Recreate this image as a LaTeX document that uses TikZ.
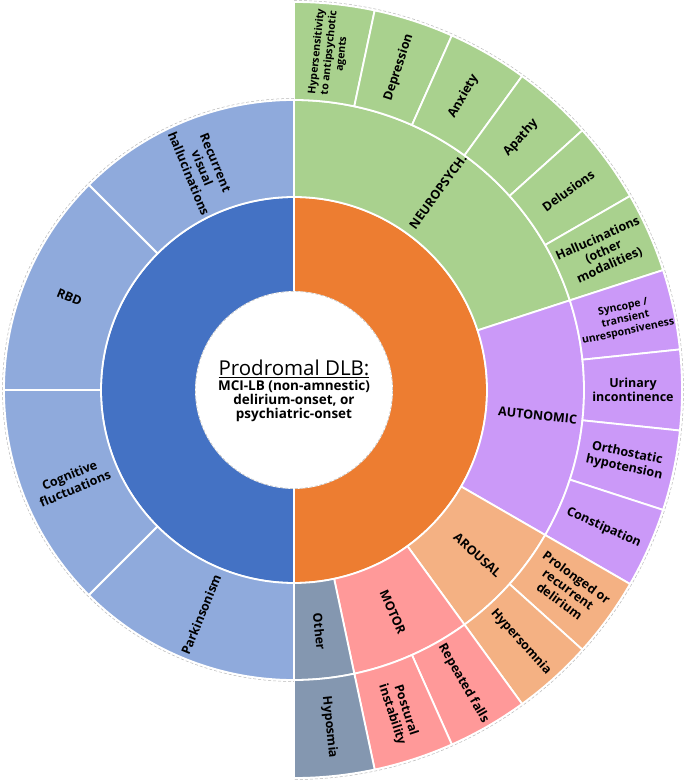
\documentclass[tikz,border=0pt]{standalone}
\usepackage{fontspec}
\setmainfont{Open Sans}
\usetikzlibrary{calc}

\definecolor{dlbblue}{HTML}{4472C4}
\definecolor{dlblight}{HTML}{8FAADC}
\definecolor{dlborange}{HTML}{ED7D31}
\definecolor{neurogreen}{HTML}{A9D18E}
\definecolor{autopurple}{HTML}{CB99F8}
\definecolor{arousalpeach}{HTML}{F4B183}
\definecolor{motorpink}{HTML}{FF9999}
\definecolor{othergrey}{HTML}{8497B0}

% one piece of the sunburst: start angle, end angle, inner r, outer r, colour
\newcommand{\sunpart}[5]{%
  \path[part, fill=#5] (#1:#3) arc[start angle=#1, end angle=#2, radius=#3pt]
    -- (#2:#4) arc[start angle=#2, end angle=#1, radius=#4pt] -- cycle;}

\begin{document}
\begin{tikzpicture}[x=1pt, y=1pt,
    part/.style={draw=white, line width=1.8pt, line join=round},
    rim/.style={draw=gray!55, densely dashed, line width=0.5pt},
    lbl/.style={font=\bfseries\fontsize{12.5}{14.5}\selectfont, align=center, inner sep=0pt},
    small/.style={lbl, font=\bfseries\fontsize{10.5}{12.5}\selectfont}]
    \useasboundingbox (-294,-391) rectangle (391,390);

    % inner ring
    \sunpart{90}{270}{98}{193}{dlbblue}
    \sunpart{-90}{90}{98}{193}{dlborange}

    % left half, core features
    \sunpart{90}{135}{193}{290}{dlblight}
    \sunpart{135}{180}{193}{290}{dlblight}
    \sunpart{180}{225}{193}{290}{dlblight}
    \sunpart{225}{270}{193}{290}{dlblight}

    % right half, groups
    \sunpart{18}{90}{193}{290}{neurogreen}
    \sunpart{-30}{18}{193}{290}{autopurple}
    \sunpart{-54}{-30}{193}{290}{arousalpeach}
    \sunpart{-78}{-54}{193}{290}{motorpink}
    \sunpart{-90}{-78}{193}{290}{othergrey}

    % right half, outer ring
    \sunpart{78}{90}{290}{388}{neurogreen}
    \sunpart{66}{78}{290}{388}{neurogreen}
    \sunpart{54}{66}{290}{388}{neurogreen}
    \sunpart{42}{54}{290}{388}{neurogreen}
    \sunpart{30}{42}{290}{388}{neurogreen}
    \sunpart{18}{30}{290}{388}{neurogreen}
    \sunpart{6}{18}{290}{388}{autopurple}
    \sunpart{-6}{6}{290}{388}{autopurple}
    \sunpart{-18}{-6}{290}{388}{autopurple}
    \sunpart{-30}{-18}{290}{388}{autopurple}
    \sunpart{-42}{-30}{290}{388}{arousalpeach}
    \sunpart{-54}{-42}{290}{388}{arousalpeach}
    \sunpart{-66}{-54}{290}{388}{motorpink}
    \sunpart{-78}{-66}{290}{388}{motorpink}
    \sunpart{-90}{-78}{290}{388}{othergrey}

    % centre
    \fill[white] (0,0) circle[radius=97pt];
    \draw[rim] (0,0) circle[radius=98.5pt];
    \draw[rim] (90:389.5) arc[start angle=90, end angle=-90, radius=389.5pt];
    \draw[rim] (90:291.5) arc[start angle=90, end angle=270, radius=291.5pt];

    \node[align=center, inner sep=0pt, font=\bfseries\fontsize{13.5}{14}\selectfont] (title) at (0,-1)
      {{\mdseries\fontsize{20.5}{22}\selectfont\underline{Prodromal DLB:}}\\[1pt]
       MCI-LB (non-amnestic)\\delirium-onset, or\\psychiatric-onset};

    % left labels
    \node[lbl, rotate=-67.5] (rvh) at (112.5:240) {Recurrent\\visual\\hallucinations};
    \node[lbl, rotate=-22.5] (rbd) at (157.5:243) {RBD};
    \node[lbl, rotate=22.5] (cogfl) at (202.5:240) {Cognitive\\fluctuations};
    \node[lbl, rotate=67.5] (park) at (247.5:243) {Parkinsonism};

    % group labels
    \node[lbl, rotate=54] (neuro) at (54:245) {NEUROPSYCH.};
    \node[lbl, rotate=-6] (auto) at (-6:245) {AUTONOMIC};
    \node[lbl, rotate=-42] (arousal) at (-42:247) {AROUSAL};
    \node[lbl, rotate=-66] (motor) at (-66:243) {MOTOR};
    \node[lbl, rotate=-84] (other) at (-84:243) {Other};

    % outer labels
    \node[small, rotate=84] (hyper) at (84:339) {Hypersensitivity\\to antipsychotic\\agents};
    \node[lbl, rotate=72] (depr) at (72:339) {Depression};
    \node[lbl, rotate=60] (anx) at (60:339) {Anxiety};
    \node[lbl, rotate=48] (apathy) at (48:339) {Apathy};
    \node[lbl, rotate=36] (delus) at (36:339) {Delusions};
    \node[lbl, rotate=24] (halluc) at (24:339) {Hallucinations\\(other\\modalities)};
    \node[small, rotate=12] (syncope) at (12:339) {Syncope /\\transient\\unresponsiveness};
    \node[lbl] (urinary) at (0:339) {Urinary\\incontinence};
    \node[lbl, rotate=-12] (ortho) at (-12:339) {Orthostatic\\hypotension};
    \node[lbl, rotate=-24] (constip) at (-24:339) {Constipation};
    \node[lbl, rotate=-36] (delirium) at (-36:339) {Prolonged or\\recurrent\\delirium};
    \node[lbl, rotate=-48] (hypersom) at (-48:339) {Hypersomnia};
    \node[lbl, rotate=-60] (falls) at (-60:339) {Repeated falls};
    \node[lbl, rotate=-72] (postural) at (-72:339) {Postural\\instability};
    \node[lbl, rotate=-84] (hyposmia) at (-84:339) {Hyposmia};
\end{tikzpicture}
\end{document}
